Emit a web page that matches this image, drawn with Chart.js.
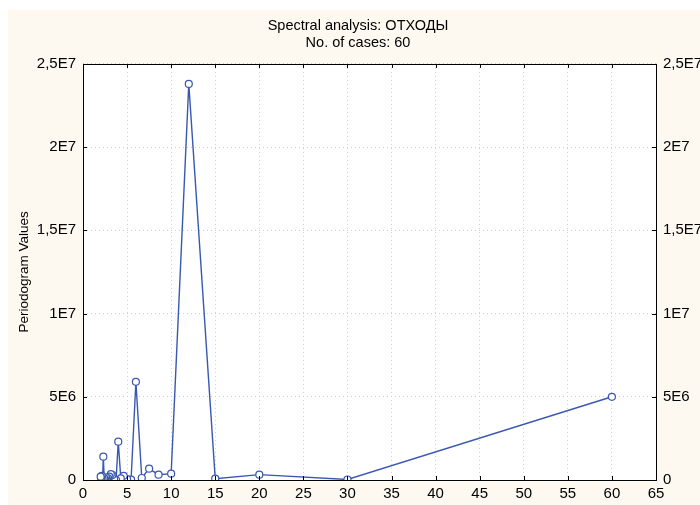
<!DOCTYPE html>
<html>
<head>
<meta charset="utf-8">
<script src="https://cdn.jsdelivr.net/npm/chart.js@4/dist/chart.umd.min.js"></script>
<style>
  html, body { margin: 0; padding: 0; background: #ffffff; }
  #wrap { width: 700px; height: 505px; }
</style>
</head>
<body>
<div id="wrap"><canvas id="chart"></canvas></div>
<script>
// periods (60/k) and periodogram values (in millions)
const periods = [60, 30, 20, 15, 12, 10, 8.571, 7.5, 6.667, 6, 5.455, 5, 4.615, 4.286, 4,
                 3.75, 3.529, 3.333, 3.158, 3, 2.857, 2.727, 2.609, 2.5, 2.4, 2.308, 2.222, 2.143, 2.069, 2];
const periodogram = [5.0, 0.03, 0.32, 0.08, 23.8, 0.38, 0.32, 0.68, 0.12, 5.9, 0.02, 0.05, 0.25, 0.1, 2.3,
                     0.0, 0.05, 0.3, 0.35, 0.2, 0.1, 0.02, 0.15, 0.05, 0.1, 1.4, 0.05, 0.25, 0.1, 0.2];
const yTickLabels = {0: '0', 5e6: '5E6', 1e7: '1E7', 1.5e7: '1,5E7', 2e7: '2E7', 2.5e7: '2,5E7'};

const points = periods.map((p, i) => ({x: p, y: periodogram[i] * 1e6}));

// cream page with white plot area and a black frame with inner ticks
const background = {
    id: 'background',
    beforeDraw(chart) {
        const ctx = chart.ctx;
        const a = chart.chartArea;
        ctx.save();
        ctx.fillStyle = '#ffffff';
        ctx.fillRect(0, 0, chart.width, chart.height);
        ctx.fillStyle = '#fdf9f1';
        ctx.fillRect(8, 10, chart.width - 8, chart.height - 10);
        ctx.fillStyle = '#ffffff';
        ctx.fillRect(a.left, a.top, a.right - a.left, a.bottom - a.top);
        ctx.restore();
    },
    afterDatasetsDraw(chart) {
        const ctx = chart.ctx;
        const a = chart.chartArea;
        ctx.save();
        ctx.strokeStyle = '#000000';
        ctx.lineWidth = 1;
        ctx.beginPath();
        chart.scales.x.ticks.forEach(t => {
            const x = Math.round(chart.scales.x.getPixelForValue(t.value)) + 0.5;
            ctx.moveTo(x, a.bottom); ctx.lineTo(x, a.bottom - 4);
            ctx.moveTo(x, a.top); ctx.lineTo(x, a.top + 4);
        });
        chart.scales.y.ticks.forEach(t => {
            const y = Math.round(chart.scales.y.getPixelForValue(t.value)) + 0.5;
            ctx.moveTo(a.left, y); ctx.lineTo(a.left + 4, y);
            ctx.moveTo(a.right, y); ctx.lineTo(a.right - 4, y);
        });
        ctx.stroke();
        ctx.strokeRect(Math.round(a.left) + 0.5, Math.round(a.top) + 0.5,
                       Math.round(a.right - a.left), Math.round(a.bottom - a.top));
        ctx.restore();
    }
};

const tickFont = {family: 'Liberation Sans, Arial', size: 15};
const gridStyle = {color: '#cfcfcf', drawTicks: false};
const dotted = {display: false, dash: [1, 3]};

new Chart(document.getElementById('chart'), {
    type: 'scatter',
    data: {
        datasets: [{
            data: points,
            showLine: true,
            borderColor: '#3a58b2',
            borderWidth: 1.4,
            pointRadius: 3.5,
            pointBorderWidth: 1.2,
            pointBackgroundColor: '#ffffff',
            pointBorderColor: '#3a58b2',
            tension: 0
        }]
    },
    options: {
        responsive: true,
        maintainAspectRatio: false,
        animation: false,
        layout: {padding: {left: 16, right: 0, top: 0, bottom: 0}},
        plugins: {
            legend: {display: false},
            tooltip: {enabled: false},
            title: {
                display: true,
                text: ['Spectral analysis: ОТХОДЫ', 'No. of cases: 60'],
                color: '#000000',
                font: {family: 'Liberation Sans, Arial', size: 14.5, weight: 'normal', lineHeight: 1.17},
                padding: {top: 17.5, bottom: 12.5}
            }
        },
        scales: {
            x: {
                type: 'linear',
                min: 0, max: 65,
                ticks: {stepSize: 5, color: '#000000', font: tickFont, padding: 5, maxRotation: 0},
                grid: gridStyle,
                border: dotted,
                afterFit(scale) { scale.height = 25; }
            },
            y: {
                position: 'left',
                min: 0, max: 2.5e7,
                ticks: {stepSize: 5e6, color: '#000000', font: tickFont, padding: 7,
                        callback: v => yTickLabels[v]},
                grid: gridStyle,
                border: dotted,
                title: {
                    display: true,
                    text: 'Periodogram Values',
                    color: '#000000',
                    font: {family: 'Liberation Sans, Arial', size: 13.5},
                    padding: {top: 0, bottom: 0}
                },
                afterFit(scale) { scale.width = 67; }
            },
            y2: {
                position: 'right',
                min: 0, max: 2.5e7,
                ticks: {stepSize: 5e6, color: '#000000', font: tickFont, padding: 7,
                        callback: v => yTickLabels[v]},
                grid: {display: false, drawTicks: false},
                border: {display: false},
                afterFit(scale) { scale.width = 44; }
            }
        }
    },
    plugins: [background]
});
</script>
</body>
</html>
